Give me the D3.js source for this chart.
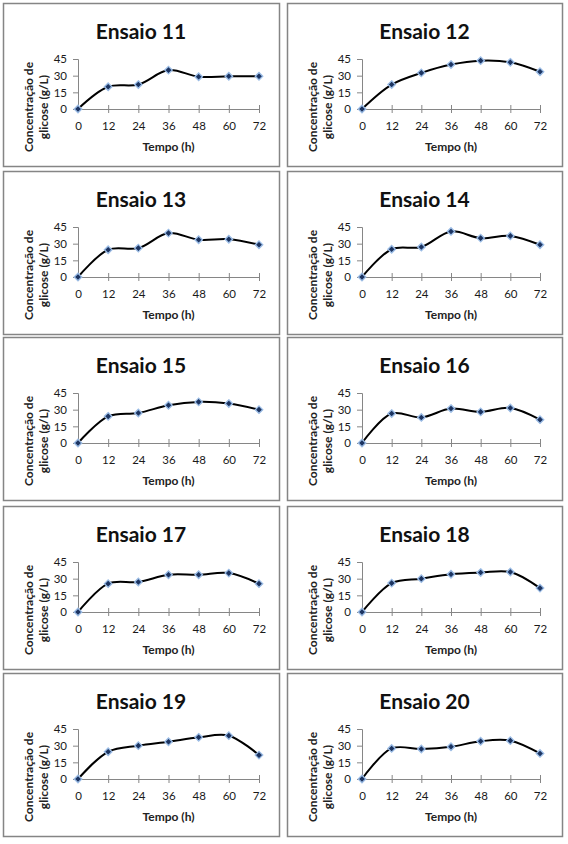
<!DOCTYPE html>
<html>
<head>
<meta charset="utf-8">
<script src="https://cdn.jsdelivr.net/npm/d3@7"></script>
<style>
  body { margin: 0; background: #fff; }
  svg { display: block; font-family: Lato, "Open Sans", sans-serif; }
</style>
</head>
<body>
<script>
// tempo de coleta (h) e ticks
const tempo = [0, 12, 24, 36, 48, 60, 72];
const yTicks = [0, 15, 30, 45];
const ensaios = ["Ensaio 11", "Ensaio 12", "Ensaio 13", "Ensaio 14", "Ensaio 15",
                 "Ensaio 16", "Ensaio 17", "Ensaio 18", "Ensaio 19", "Ensaio 20"];

const glicose11 = [0, 20, 22, 35, 29, 29.5, 29.5];
const glicose12 = [0, 22, 32.5, 40, 43.5, 42, 33.5];
const glicose13 = [0, 24.5, 26, 39.5, 33.5, 34, 29];
const glicose14 = [0, 25, 27, 41, 35, 37, 29];
const glicose15 = [0, 24, 27, 34, 37, 35.5, 30];
const glicose16 = [0, 26.5, 23, 31, 28, 31.5, 21];
const glicose17 = [0, 25.5, 27, 33.5, 33.5, 35, 25.5];
const glicose18 = [0, 26, 30, 34, 35.5, 36, 21.5];
const glicose19 = [0, 24.5, 30, 33.5, 37.5, 39, 21.5];
const glicose20 = [0, 27.5, 27, 29, 34, 34.5, 23];

const series = [glicose11, glicose12, glicose13, glicose14, glicose15,
                glicose16, glicose17, glicose18, glicose19, glicose20];

let width = 568;
let height = 844;

// panel frames
let colX = [3, 287];
let colW = [276, 275];
let rowY = [3, 171, 337, 506, 673];
let panelH = 163;

// plot area inside a panel
let plotLeft = 75;
let plotTop = 56;
let plotH = 50;
let plotW = [181, 178];

let svg = d3.select("body").append("svg")
    .attr("width", width)
    .attr("height", height)
    .attr("viewBox", [0, 0, width, height]);

ensaios.forEach((name, i) => {
    let col = i % 2;
    let row = Math.floor(i / 2);
    let pw = colW[col];

    let panel = svg.append("g")
        .attr("transform", `translate(${colX[col]},${rowY[row]})`);

    panel.append("rect")
        .attr("x", 0.5)
        .attr("y", 0.5)
        .attr("width", pw)
        .attr("height", panelH)
        .attr("fill", "#fff")
        .attr("stroke", "#858585")
        .attr("stroke-width", 1.5);

    // title
    panel.append("text")
        .attr("x", pw / 2)
        .attr("y", 36)
        .attr("text-anchor", "middle")
        .attr("font-size", "21px")
        .attr("font-weight", "bold")
        .attr("fill", "#111")
        .text(name);

    let x = d3.scaleLinear()
        .domain([0, 72])
        .range([plotLeft, plotLeft + plotW[col]]);

    let y = d3.scaleLinear()
        .domain([0, 45])
        .range([plotTop + plotH, plotTop]);

    // x axis, ticks crossing the line
    panel.append("g")
        .attr("transform", `translate(0,${plotTop + plotH})`)
        .call(d3.axisBottom(x).tickValues(tempo).tickSizeOuter(0).tickSize(4))
        .call(g => g.select(".domain").attr("stroke", "#868686"))
        .call(g => g.selectAll(".tick line").attr("y1", -4).attr("y2", 4).attr("stroke", "#868686"))
        .call(g => g.selectAll(".tick text")
            .attr("y", 13)
            .attr("font-family", "Lato, sans-serif")
            .attr("font-size", "11.5px")
            .attr("fill", "#1a1a1a"));

    // y axis
    panel.append("g")
        .attr("transform", `translate(${plotLeft},0)`)
        .call(d3.axisLeft(y).tickValues(yTicks).tickSizeOuter(0).tickSize(5).tickPadding(6))
        .call(g => g.select(".domain").attr("stroke", "#868686"))
        .call(g => g.selectAll(".tick line").attr("stroke", "#868686"))
        .call(g => g.selectAll(".tick text")
            .attr("font-family", "Lato, sans-serif")
            .attr("font-size", "11.5px")
            .attr("fill", "#1a1a1a"));

    // axis titles
    panel.append("text")
        .attr("x", plotLeft + plotW[col] / 2)
        .attr("y", 148)
        .attr("text-anchor", "middle")
        .attr("font-size", "12px")
        .attr("font-weight", "bold")
        .attr("fill", "#222")
        .text("Tempo (h)");

    let ylab = panel.append("text")
        .attr("transform", `translate(0,104) rotate(-90)`)
        .attr("text-anchor", "middle")
        .attr("font-size", "12px")
        .attr("font-weight", "bold")
        .attr("fill", "#222");
    ylab.append("tspan").attr("x", 0).attr("y", 30).text("Concentração de");
    ylab.append("tspan").attr("x", 0).attr("y", 45).text("glicose (g/L)");

    let points = tempo.map((t, k) => ({ t, v: series[i][k] }));

    let line = d3.line()
        .x(d => x(d.t))
        .y(d => y(d.v))
        .curve(d3.curveCatmullRom.alpha(0.5));

    panel.append("path")
        .datum(points)
        .attr("fill", "none")
        .attr("stroke", "#000")
        .attr("stroke-width", 2)
        .attr("stroke-linejoin", "round")
        .attr("d", line);

    panel.selectAll(".marker")
        .data(points)
        .join("path")
        .attr("class", "marker")
        .attr("transform", d => `translate(${x(d.t)},${y(d.v)})`)
        .attr("d", d3.symbol(d3.symbolDiamond2, 36))
        .attr("fill", "#1c3461")
        .attr("stroke", "#9cbde6")
        .attr("stroke-width", 1.3);
});
</script>
</body>
</html>
